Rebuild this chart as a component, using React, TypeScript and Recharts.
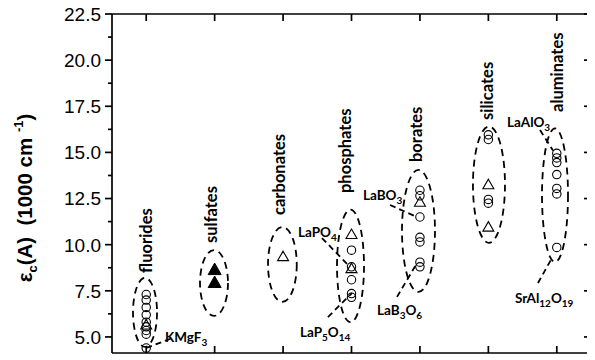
import React from 'react';
import { ScatterChart, Scatter, XAxis, YAxis, ReferenceArea, ReferenceLine, ReferenceDot } from 'recharts';

// ---- data ----
const categories = ['fluorides', 'sulfates', 'carbonates', 'phosphates', 'borates', 'silicates', 'aluminates'];
const categoryIndex = [1, 2, 3, 4, 5, 6, 7];

const fluorideCircles = [7.3, 7.0, 6.6, 6.2, 5.8, 5.55, 5.35, 5.15, 4.4];
const fluorideTriangles = [5.65];
const sulfateFilledTriangles = [8.65, 7.95];
const carbonateTriangles = [9.35];
const phosphateCircles = [9.7, 8.8, 8.1, 7.35, 7.15];
const phosphateTriangles = [10.55, 8.7];
const borateCircles = [12.95, 12.65, 11.5, 10.4, 10.15, 9.05, 8.8];
const borateTriangles = [12.3];
const silicateCircles = [15.95, 15.7, 12.45, 12.25];
const silicateTriangles = [13.25, 10.95];
const aluminateCircles = [14.95, 14.7, 14.45, 13.8, 13.05, 12.75, 9.85];

const yMajorTicks = [5, 7.5, 10, 12.5, 15, 17.5, 20, 22.5];
const yMajorLabels = ['5.0', '7.5', '10.0', '12.5', '15.0', '17.5', '20.0', '22.5'];
const yMinorTicks = [6.25, 8.75, 11.25, 13.75, 16.25, 18.75, 21.25];
const yDomain = [4.13, 22.5];
const xDomain = [0.5, 7.5];

// annotation anchors (data units)
const categoryLabelPos = [
  { x: 1.08, y: 8.47 },
  { x: 2.034, y: 10.09 },
  { x: 3.028, y: 11.61 },
  { x: 4.0, y: 12.8 },
  { x: 5.03, y: 14.48 },
  { x: 6.068, y: 16.76 },
  { x: 7.09, y: 17.19 },
];

const ellipses = [
  { x1: 0.807, x2: 1.158, y1: 4.46, y2: 8.2 },
  { x1: 1.786, x2: 2.195, y1: 6.14, y2: 9.71 },
  { x1: 2.78, x2: 3.2, y1: 6.9, y2: 10.96 },
  { x1: 3.788, x2: 4.183, y1: 5.8, y2: 11.9 },
  { x1: 4.738, x2: 5.22, y1: 7.44, y2: 14.05 },
  { x1: 5.775, x2: 6.243, y1: 10.1, y2: 16.4 },
  { x1: 6.784, x2: 7.164, y1: 9.06, y2: 16.3 },
];

const connectors = [
  [{ x: 1.0, y: 4.4 }, { x: 1.39, y: 4.95 }],
  [{ x: 3.569, y: 10.36 }, { x: 3.978, y: 8.79 }],
  [{ x: 3.656, y: 6.08 }, { x: 4.007, y: 7.38 }],
  [{ x: 4.563, y: 12.15 }, { x: 4.957, y: 11.5 }],
  [{ x: 4.665, y: 7.17 }, { x: 4.957, y: 9.0 }],
  [{ x: 6.755, y: 16.21 }, { x: 6.945, y: 15.1 }],
  [{ x: 6.725, y: 7.92 }, { x: 6.93, y: 9.28 }],
];

const compoundLabels = [
  { x: 1.275, y: 4.73, parts: [['KMgF', 0], ['3', 1]] },
  { x: 3.218, y: 10.42, parts: [['LaPO', 0], ['4', 1]] },
  { x: 3.247, y: 5.0, parts: [['LaP', 0], ['5', 1], ['O', 0], ['14', 1]] },
  { x: 4.168, y: 12.42, parts: [['LaBO', 0], ['3', 1]] },
  { x: 4.373, y: 6.19, parts: [['LaB', 0], ['3', 1], ['O', 0], ['6', 1]] },
  { x: 6.272, y: 16.38, parts: [['LaAlO', 0], ['3', 1]] },
  { x: 6.389, y: 6.84, parts: [['SrAl', 0], ['12', 1], ['O', 0], ['19', 1]] },
];

const toPoints = (xi: number, vals: number[]) => vals.map((v) => ({ x: xi, y: v }));

const openCircleData = [
  ...toPoints(categoryIndex[0], fluorideCircles),
  ...toPoints(categoryIndex[3], phosphateCircles),
  ...toPoints(categoryIndex[4], borateCircles),
  ...toPoints(categoryIndex[5], silicateCircles),
  ...toPoints(categoryIndex[6], aluminateCircles),
];
const openTriangleData = [
  ...toPoints(categoryIndex[0], fluorideTriangles),
  ...toPoints(categoryIndex[2], carbonateTriangles),
  ...toPoints(categoryIndex[3], phosphateTriangles),
  ...toPoints(categoryIndex[4], borateTriangles),
  ...toPoints(categoryIndex[5], silicateTriangles),
];
const filledTriangleData = toPoints(categoryIndex[1], sulfateFilledTriangles);

const LABEL_FONT = 'Lato, "Open Sans", sans-serif';
const TICK_FONT = '"Liberation Sans", Arial, sans-serif';
const AX = 1.7;

// tick lengths expressed in data units (plot is 479 px wide for 7 units, 339 px tall for 18.37 units)
const X_PER_PX = (xDomain[1] - xDomain[0]) / 479;
const Y_PER_PX = (yDomain[1] - yDomain[0]) / 339;

const OpenCircle = (p: any) => (
  <circle cx={p.cx} cy={p.cy} r={4.2} fill="none" stroke="#000" strokeWidth={1.1} />
);
const OpenTriangle = (p: any) => (
  <path d={`M${p.cx},${p.cy - 5.5}L${p.cx + 5.5},${p.cy + 4}L${p.cx - 5.5},${p.cy + 4}Z`} fill="none" stroke="#000" strokeWidth={1.1} />
);
const FilledTriangle = (p: any) => (
  <path d={`M${p.cx},${p.cy - 6.5}L${p.cx + 6.5},${p.cy + 5}L${p.cx - 6.5},${p.cy + 5}Z`} fill="#000" stroke="#000" strokeWidth={1} />
);

const LeftTick = (p: any) => {
  const i = yMajorTicks.indexOf(p.payload.value);
  if (i < 0) return <g />;
  return (
    <text x={p.x - 11} y={p.y} dy="0.36em" textAnchor="end" fontFamily={TICK_FONT} fontSize={19} fill="#000">
      {yMajorLabels[i]}
    </text>
  );
};

const YLabel = () => (
  <text
    x={24}
    y={194}
    transform="rotate(-90 24 194)"
    textAnchor="middle"
    fontFamily={TICK_FONT}
    fontWeight="bold"
    fontSize={20.5}
    fill="#000"
    xmlSpace="preserve"
  >
    ε<tspan dy={5} fontSize={13}>c</tspan>
    <tspan dy={-5}>(A)  (1000 cm </tspan>
    <tspan dy={-9} fontSize={13}>-1</tspan>
    <tspan dy={9}>)</tspan>
  </text>
);

const EllipseShape = (p: any) => (
  <ellipse
    cx={p.x + p.width / 2}
    cy={p.y + p.height / 2}
    rx={Math.abs(p.width) / 2}
    ry={Math.abs(p.height) / 2}
    fill="none"
    stroke="#000"
    strokeWidth={1.8}
    strokeDasharray="7 5"
  />
);

const yTicksAll = [...yMajorTicks, ...yMinorTicks].sort((a, b) => a - b);

const frameSegments = [
  [{ x: xDomain[0], y: yDomain[0] }, { x: xDomain[1], y: yDomain[0] }],
  [{ x: xDomain[0], y: yDomain[1] }, { x: xDomain[1], y: yDomain[1] }],
  [{ x: xDomain[0], y: yDomain[0] }, { x: xDomain[0], y: yDomain[1] }],
  [{ x: xDomain[1], y: yDomain[0] }, { x: xDomain[1], y: yDomain[1] }],
];
const tickSegments = [
  ...categoryIndex.map((c) => [{ x: c, y: yDomain[0] }, { x: c, y: yDomain[0] + 7 * Y_PER_PX }]),
  ...categoryIndex.map((c) => [{ x: c, y: yDomain[1] }, { x: c, y: yDomain[1] - 7 * Y_PER_PX }]),
  ...yMajorTicks.map((v) => [{ x: xDomain[0], y: v }, { x: xDomain[0] - 7 * X_PER_PX, y: v }]),
  ...yMinorTicks.map((v) => [{ x: xDomain[0], y: v }, { x: xDomain[0] - 4 * X_PER_PX, y: v }]),
  ...yMajorTicks.map((v) => [{ x: xDomain[1], y: v }, { x: xDomain[1] - 7 * X_PER_PX, y: v }]),
  ...yMinorTicks.map((v) => [{ x: xDomain[1], y: v }, { x: xDomain[1] - 4 * X_PER_PX, y: v }]),
];

export default function App() {
  return (
    <div style={{ width: 587, height: 356, marginTop: -4 }}>
      <ScatterChart width={587} height={356} margin={{ top: 10, right: 4, bottom: 7, left: 44 }}>
        <XAxis
          type="number"
          dataKey="x"
          domain={xDomain}
          ticks={categoryIndex}
          allowDataOverflow
          height={0}
          tick={false}
          axisLine={false}
          tickLine={false}
        />
        <YAxis
          type="number"
          dataKey="y"
          domain={yDomain}
          ticks={yTicksAll}
          interval={0}
          allowDataOverflow
          width={60}
          tickSize={0}
          tickMargin={0}
          tick={<LeftTick />}
          axisLine={false}
          tickLine={false}
          label={<YLabel />}
        />

        {frameSegments.map((s, i) => (
          <ReferenceLine key={'f' + i} segment={s} stroke="#000" strokeWidth={AX} ifOverflow="visible" />
        ))}
        {tickSegments.map((s, i) => (
          <ReferenceLine key={'t' + i} segment={s} stroke="#000" strokeWidth={AX} ifOverflow="visible" />
        ))}

        {ellipses.map((e, i) => (
          <ReferenceArea key={'e' + i} x1={e.x1} x2={e.x2} y1={e.y1} y2={e.y2} ifOverflow="visible" shape={<EllipseShape />} />
        ))}
        {connectors.map((c, i) => (
          <ReferenceLine key={'c' + i} segment={c} stroke="#000" strokeWidth={1.8} strokeDasharray="6 4" ifOverflow="visible" />
        ))}

        <Scatter data={openCircleData} isAnimationActive={false} shape={<OpenCircle />} />
        <Scatter data={openTriangleData} isAnimationActive={false} shape={<OpenTriangle />} />
        <Scatter data={filledTriangleData} isAnimationActive={false} shape={<FilledTriangle />} />

        {categories.map((name, i) => (
          <ReferenceDot
            key={'l' + i}
            x={categoryLabelPos[i].x}
            y={categoryLabelPos[i].y}
            r={0}
            ifOverflow="visible"
            shape={(p: any) => (
              <text
                x={p.cx}
                y={p.cy}
                transform={`rotate(-90 ${p.cx} ${p.cy})`}
                textAnchor="start"
                fontFamily={LABEL_FONT}
                fontWeight="bold"
                fontSize={16.5}
                fill="#000"
              >
                {name}
              </text>
            )}
          />
        ))}

        {compoundLabels.map((c, i) => (
          <ReferenceDot
            key={'k' + i}
            x={c.x}
            y={c.y}
            r={0}
            ifOverflow="visible"
            shape={(p: any) => {
              let prevSub = 0;
              return (
                <text x={p.cx} y={p.cy} fontFamily={LABEL_FONT} fontWeight="bold" fontSize={13.5} fill="#000">
                  {c.parts.map((part: any, j: number) => {
                    const sub = part[1] as number;
                    const dy = sub === prevSub ? 0 : sub ? 4 : -4;
                    prevSub = sub;
                    return (
                      <tspan key={j} dy={dy} fontSize={sub ? 10 : 13.5}>
                        {part[0]}
                      </tspan>
                    );
                  })}
                </text>
              );
            }}
          />
        ))}
      </ScatterChart>
    </div>
  );
}
